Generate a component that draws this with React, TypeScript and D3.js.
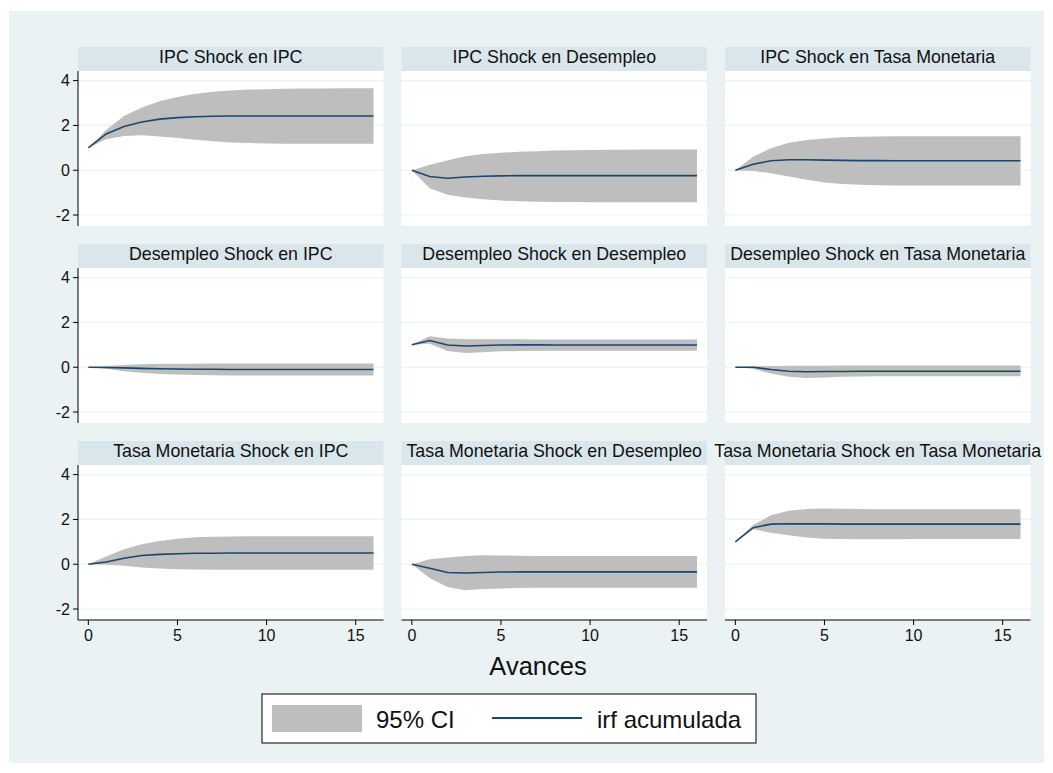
import React from 'react'
import * as d3 from 'd3'

// titles in grid order (row = impulse, col = response)
const titles = [
  'IPC Shock en IPC',
  'IPC Shock en Desempleo',
  'IPC Shock en Tasa Monetaria',
  'Desempleo Shock en IPC',
  'Desempleo Shock en Desempleo',
  'Desempleo Shock en Tasa Monetaria',
  'Tasa Monetaria Shock en IPC',
  'Tasa Monetaria Shock en Desempleo',
  'Tasa Monetaria Shock en Tasa Monetaria'
]

const steps = d3.range(0, 17)
const yTicks = [-2, 0, 2, 4]
const xTicks = [0, 5, 10, 15]

// IPC -> IPC
const irfIpcIpc = [1.0, 1.62, 1.95, 2.15, 2.28, 2.35, 2.39, 2.41, 2.42, 2.42, 2.42, 2.42, 2.42, 2.42, 2.42, 2.42, 2.42]
const hiIpcIpc = [1.0, 1.8, 2.42, 2.8, 3.08, 3.27, 3.41, 3.5, 3.56, 3.6, 3.62, 3.64, 3.65, 3.65, 3.66, 3.66, 3.66]
const loIpcIpc = [1.0, 1.38, 1.53, 1.56, 1.51, 1.44, 1.36, 1.29, 1.24, 1.21, 1.19, 1.18, 1.18, 1.18, 1.18, 1.18, 1.18]

// IPC -> Desempleo
const irfIpcDes = [0, -0.28, -0.36, -0.3, -0.27, -0.25, -0.24, -0.24, -0.24, -0.24, -0.24, -0.24, -0.24, -0.24, -0.24, -0.24, -0.24]
const hiIpcDes = [0, 0.24, 0.43, 0.62, 0.72, 0.78, 0.82, 0.85, 0.88, 0.89, 0.9, 0.91, 0.91, 0.92, 0.92, 0.92, 0.93]
const loIpcDes = [0, -0.8, -1.1, -1.22, -1.3, -1.35, -1.39, -1.41, -1.42, -1.42, -1.43, -1.43, -1.43, -1.43, -1.43, -1.43, -1.43]

// IPC -> Tasa
const irfIpcTasa = [0, 0.27, 0.42, 0.47, 0.47, 0.45, 0.44, 0.43, 0.43, 0.42, 0.42, 0.42, 0.42, 0.42, 0.42, 0.42, 0.42]
const hiIpcTasa = [0, 0.6, 0.98, 1.23, 1.35, 1.42, 1.47, 1.5, 1.51, 1.52, 1.52, 1.52, 1.52, 1.52, 1.52, 1.52, 1.52]
const loIpcTasa = [0, -0.03, -0.13, -0.28, -0.43, -0.55, -0.62, -0.65, -0.67, -0.68, -0.68, -0.68, -0.68, -0.68, -0.68, -0.68, -0.68]

// Desempleo -> IPC
const irfDesIpc = [0, -0.01, -0.03, -0.05, -0.07, -0.08, -0.09, -0.09, -0.1, -0.1, -0.1, -0.1, -0.1, -0.1, -0.1, -0.1, -0.1]
const hiDesIpc = [0, 0.05, 0.1, 0.13, 0.15, 0.16, 0.16, 0.17, 0.17, 0.17, 0.17, 0.17, 0.17, 0.17, 0.17, 0.17, 0.17]
const loDesIpc = [0, -0.07, -0.18, -0.25, -0.3, -0.33, -0.35, -0.36, -0.37, -0.37, -0.37, -0.37, -0.37, -0.37, -0.37, -0.37, -0.37]

// Desempleo -> Desempleo
const irfDesDes = [1.0, 1.19, 0.99, 0.95, 0.97, 0.99, 1.0, 1.0, 0.99, 0.99, 0.99, 0.99, 0.99, 0.99, 0.99, 0.99, 0.99]
const hiDesDes = [1.0, 1.38, 1.28, 1.25, 1.25, 1.25, 1.25, 1.24, 1.24, 1.24, 1.24, 1.24, 1.24, 1.24, 1.24, 1.24, 1.24]
const loDesDes = [1.0, 1.05, 0.73, 0.64, 0.67, 0.71, 0.73, 0.74, 0.74, 0.74, 0.74, 0.74, 0.74, 0.74, 0.74, 0.74, 0.74]

// Desempleo -> Tasa
const irfDesTasa = [0, 0, -0.1, -0.18, -0.2, -0.19, -0.19, -0.18, -0.18, -0.18, -0.18, -0.18, -0.18, -0.18, -0.18, -0.18, -0.18]
const hiDesTasa = [0, 0.04, 0.06, 0.07, 0.07, 0.07, 0.08, 0.08, 0.08, 0.08, 0.08, 0.08, 0.08, 0.08, 0.08, 0.08, 0.08]
const loDesTasa = [0, -0.07, -0.28, -0.43, -0.48, -0.46, -0.43, -0.41, -0.4, -0.4, -0.4, -0.4, -0.4, -0.4, -0.4, -0.4, -0.4]

// Tasa -> IPC
const irfTasaIpc = [0, 0.1, 0.27, 0.39, 0.44, 0.47, 0.49, 0.49, 0.5, 0.5, 0.5, 0.5, 0.5, 0.5, 0.5, 0.5, 0.5]
const hiTasaIpc = [0, 0.34, 0.67, 0.89, 1.04, 1.14, 1.2, 1.23, 1.24, 1.25, 1.25, 1.25, 1.25, 1.25, 1.25, 1.25, 1.25]
const loTasaIpc = [0, -0.02, -0.07, -0.15, -0.19, -0.22, -0.24, -0.25, -0.25, -0.25, -0.25, -0.25, -0.25, -0.25, -0.25, -0.25, -0.25]

// Tasa -> Desempleo
const irfTasaDes = [0, -0.18, -0.37, -0.39, -0.37, -0.35, -0.34, -0.34, -0.34, -0.34, -0.34, -0.34, -0.34, -0.34, -0.34, -0.34, -0.34]
const hiTasaDes = [0, 0.22, 0.3, 0.37, 0.4, 0.39, 0.38, 0.37, 0.37, 0.37, 0.37, 0.37, 0.37, 0.37, 0.37, 0.37, 0.37]
const loTasaDes = [0, -0.62, -1.02, -1.16, -1.11, -1.08, -1.06, -1.05, -1.05, -1.05, -1.05, -1.05, -1.05, -1.05, -1.05, -1.05, -1.05]

// Tasa -> Tasa
const irfTasaTasa = [1.0, 1.63, 1.79, 1.81, 1.8, 1.8, 1.79, 1.79, 1.79, 1.79, 1.79, 1.79, 1.79, 1.79, 1.79, 1.79, 1.79]
const hiTasaTasa = [1.0, 1.75, 2.19, 2.39, 2.47, 2.49, 2.48, 2.47, 2.46, 2.46, 2.46, 2.46, 2.46, 2.46, 2.46, 2.46, 2.46]
const loTasaTasa = [1.0, 1.56, 1.41, 1.29, 1.19, 1.14, 1.13, 1.12, 1.12, 1.12, 1.13, 1.13, 1.13, 1.13, 1.13, 1.13, 1.13]

const panels = [
  [irfIpcIpc, loIpcIpc, hiIpcIpc],
  [irfIpcDes, loIpcDes, hiIpcDes],
  [irfIpcTasa, loIpcTasa, hiIpcTasa],
  [irfDesIpc, loDesIpc, hiDesIpc],
  [irfDesDes, loDesDes, hiDesDes],
  [irfDesTasa, loDesTasa, hiDesTasa],
  [irfTasaIpc, loTasaIpc, hiTasaIpc],
  [irfTasaDes, loTasaDes, hiTasaDes],
  [irfTasaTasa, loTasaTasa, hiTasaTasa]
]

const FONT = '"Liberation Sans", Arial, Helvetica, sans-serif'
const BG = '#eaf2f3'
const STRIP = '#d9e6eb'
const CI = '#bebebe'
const LINE = '#1a476f'

const colX = [78, 401.5, 725]
const rowY = [47, 244, 441]
const panelW = 305.5
const stripH = 24
const plotH = 155

function Panel({ idx }) {
  const col = idx % 3
  const row = Math.floor(idx / 3)
  const left = colX[col]
  const top = rowY[row]
  const plotTop = top + stripH
  const bottom = plotTop + plotH
  const [irf, lo, hi] = panels[idx]

  const x = d3.scaleLinear().domain([-0.58, 16.56]).range([left, left + panelW])
  const y = d3.scaleLinear().domain([-2.49, 4.43]).range([bottom, plotTop])

  const band = d3
    .area()
    .x((d, i) => x(steps[i]))
    .y0((d, i) => y(lo[i]))
    .y1((d, i) => y(hi[i]))
  const line = d3
    .line()
    .x((d, i) => x(steps[i]))
    .y(d => y(d))

  return (
    <g>
      <rect x={left} y={top} width={panelW} height={stripH} fill={STRIP} />
      <text x={left + panelW / 2} y={top + 16} textAnchor="middle" fontSize={17.8} fill="#111">
        {titles[idx]}
      </text>
      <rect x={left} y={plotTop} width={panelW} height={plotH} fill="#fff" />
      {yTicks.map(t => (
        <line key={t} x1={left} x2={left + panelW} y1={y(t)} y2={y(t)} stroke={BG} strokeWidth={1.2} />
      ))}
      <path d={band(steps)} fill={CI} />
      <path d={line(irf)} fill="none" stroke={LINE} strokeWidth={1.6} />
      {col === 0 && (
        <g>
          <line x1={left} x2={left} y1={plotTop} y2={bottom} stroke="#000" />
          {yTicks.map(t => (
            <g key={t}>
              <line x1={left - 5} x2={left} y1={y(t)} y2={y(t)} stroke="#000" />
              <text x={left - 8} y={y(t)} dy="0.36em" textAnchor="end" fontSize={16} fill="#111">
                {t}
              </text>
            </g>
          ))}
        </g>
      )}
      {row === 2 && (
        <g>
          <line x1={left} x2={left + panelW} y1={bottom} y2={bottom} stroke="#000" />
          {xTicks.map(t => (
            <g key={t}>
              <line x1={x(t)} x2={x(t)} y1={bottom} y2={bottom + 5} stroke="#000" />
              <text x={x(t)} y={bottom + 21} textAnchor="middle" fontSize={16} fill="#111">
                {t}
              </text>
            </g>
          ))}
        </g>
      )}
    </g>
  )
}

export default function App() {
  return (
    <svg
      width={1053}
      height={773}
      style={{ position: 'absolute', left: 0, top: 0, background: '#fff' }}
      fontFamily={FONT}
    >
      <rect x={9} y={11} width={1035} height={752} fill={BG} />
      {titles.map((t, i) => (
        <Panel key={t} idx={i} />
      ))}
      <text x={538} y={675} textAnchor="middle" fontSize={25.5} fill="#111">
        Avances
      </text>
      <rect x={262} y={694} width={494} height={49} fill="#fff" stroke="#000" strokeWidth={1} />
      <rect x={272} y={705} width={90} height={27} fill={CI} />
      <text x={376} y={728} fontSize={24} fill="#111">
        95% CI
      </text>
      <line x1={492} x2={582} y1={718} y2={718} stroke={LINE} strokeWidth={2} />
      <text x={597} y={728} fontSize={24} fill="#111">
        irf acumulada
      </text>
    </svg>
  )
}
